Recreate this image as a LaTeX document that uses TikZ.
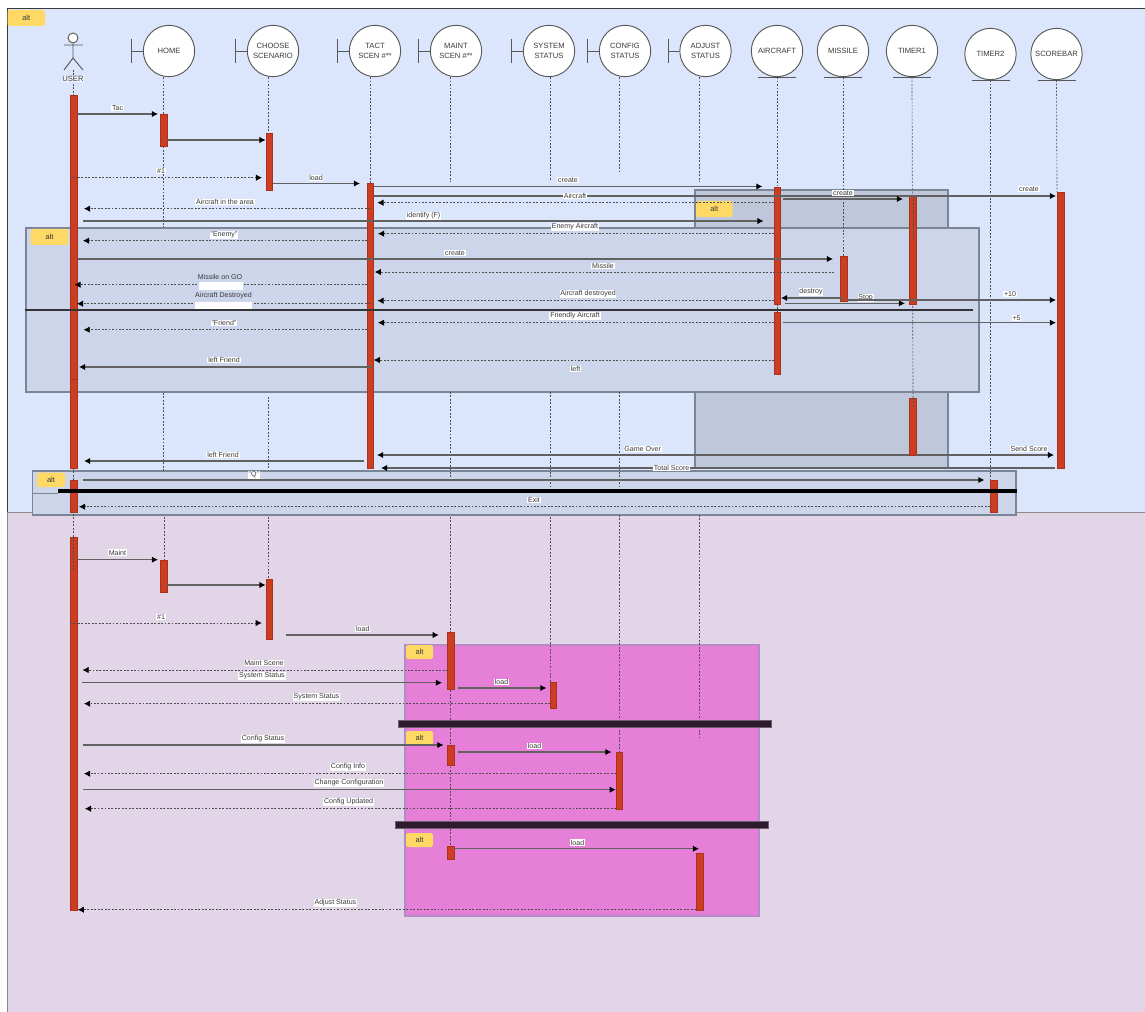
\documentclass[tikz,border=0pt]{standalone}
\usepackage{fontspec}
\setmainfont{Liberation Sans}
\usetikzlibrary{arrows.meta}
\definecolor{bgblue}{HTML}{DBE6FD}
\definecolor{bgpurple}{HTML}{E1D5E7}
\definecolor{tagy}{HTML}{FFD966}
\definecolor{actred}{HTML}{CC3D22}
\definecolor{actline}{HTML}{A8321C}
\definecolor{frameone}{HTML}{CDD5EB}
\definecolor{frametwo}{HTML}{BFC8DA}
\definecolor{framel}{HTML}{7A8696}
\definecolor{pinkf}{HTML}{E67FD7}
\definecolor{pinkl}{HTML}{B58BC6}
\definecolor{barp}{HTML}{2D1A2D}
\definecolor{ink}{HTML}{3A3A3A}
\tikzset{
  boxn/.style={rectangle,inner sep=0pt,outer sep=0pt},
  actbox/.style={boxn,fill=actred,draw=actline,line width=.4pt},
  tagbox/.style={boxn,fill=tagy,rounded corners=1.2pt,font=\fontsize{5.6}{6}\selectfont,text=ink},
  frameA/.style={boxn,fill=frameone,draw=framel,line width=.8pt},
  frameB/.style={boxn,fill=frametwo,draw=framel,line width=.8pt},
  frameC/.style={boxn,fill=pinkf,draw=pinkl,line width=.8pt},
  panelblue/.style={boxn,fill=bgblue,draw=ink,line width=.6pt},
  panelpurple/.style={boxn,fill=bgpurple,draw=ink!60,line width=.5pt},
  whitebox/.style={boxn,fill=white},
  sepbar/.style={boxn,fill=barp,draw=barp!70!white,line width=.3pt},
  blackbar/.style={boxn,fill=black},
  entity/.style={circle,draw=ink!85,fill=white,line width=.7pt,minimum size=38.5pt,inner sep=0pt,align=center,text=ink,font=\fontsize{5.7}{7.4}\selectfont},
  glyph/.style={draw=ink!85,line width=.7pt},
  life/.style={draw=ink!90,line width=.5pt,dash pattern=on 1.4pt off 1.2pt},
  msgs/.style={draw=ink!80,line width=.8pt,-{Latex[length=4.6pt,width=4.8pt,black]}},
  msgd/.style={draw=ink!90,line width=.55pt,dash pattern=on 1.4pt off 1.2pt,-{Latex[length=4.6pt,width=4.8pt,black]}},
  lab/.style={fill=white,inner xsep=.6pt,inner ysep=.5pt,text=ink,font=\fontsize{5.3}{6}\selectfont},
}
% rectangular node from corners given in picture pixels
\newcommand{\pbox}[6]{%
  \pgfmathsetmacro{\pbw}{(#5-#3)*.75}\pgfmathsetmacro{\pbh}{(#6-#4)*.75}%
  \pgfmathsetmacro{\pbx}{(#3+#5)/2}\pgfmathsetmacro{\pby}{(#4+#6)/2}%
  \node[#2,minimum width=\pbw pt,minimum height=\pbh pt] (#1) at (\pbx,\pby) {};}
\newcommand{\tagnode}[5]{%
  \pgfmathsetmacro{\pbw}{(#4-#2)*.75}\pgfmathsetmacro{\pbh}{(#5-#3)*.75}%
  \pgfmathsetmacro{\pbx}{(#2+#4)/2}\pgfmathsetmacro{\pby}{(#3+#5)/2}%
  \node[tagbox,minimum width=\pbw pt,minimum height=\pbh pt] (#1) at (\pbx,\pby) {alt};}
% lifeline piece: id, x, y1, y2
\newcommand{\lseg}[4]{\coordinate (#1a) at (#2,#3);\coordinate (#1b) at (#2,#4);\draw[life] (#1a) -- (#1b);}
% message: id, style, x1, x2, y, label, label x, label y
\newcommand{\msg}[8]{\coordinate (#1a) at (#3,#5);\coordinate (#1b) at (#4,#5);\draw[#2] (#1a) -- (#1b);
  \node[lab] (#1t) at (#7,#8) {#6};}
\newcommand{\msgn}[5]{\coordinate (#1a) at (#3,#5);\coordinate (#1b) at (#4,#5);\draw[#2] (#1a) -- (#1b);}
\begin{document}
\begin{tikzpicture}[x=.75pt,y=-.75pt]
\useasboundingbox (0,0) rectangle (1145,1012);
% panels
\pbox{pblue}{panelblue}{7.5}{8}{1150}{512}
\pbox{ppurple}{panelpurple}{7.5}{512}{1150}{1016}
\tagnode{tagmain}{7.5}{10}{45}{26}
% frames
\pbox{falttwo}{frameB}{695}{190}{948}{468}
\pbox{faltone}{frameA}{26}{228}{979}{392}
\pbox{faltthree}{frameA}{32.5}{471}{1016}{515}
\pbox{fpink}{frameC}{405}{645}{759}{916}
% entities
\node[entity] (home) at (169,51) {HOME};
\node[entity] (choose) at (273,51) {CHOOSE\\SCENARIO};
\node[entity] (tact) at (375,51) {TACT\\SCEN \#**};
\node[entity] (maint) at (456,51) {MAINT\\SCEN \#**};
\node[entity] (system) at (549,51) {SYSTEM\\STATUS};
\node[entity] (config) at (625,51) {CONFIG\\STATUS};
\node[entity] (adjust) at (705.5,51) {ADJUST\\STATUS};
\node[entity] (aircraft) at (777,51) {AIRCRAFT};
\node[entity] (missile) at (843,51) {MISSILE};
\node[entity] (timerone) at (912,51) {TIMER1};
\node[entity] (timertwo) at (990.5,54) {TIMER2};
\node[entity] (scorebar) at (1056.5,54) {SCOREBAR};
\foreach \n in {home,choose,tact,maint,system,config,adjust}{
  \draw[glyph] (\n.west) -- ++(-11,0) ++(0,-12) -- ++(0,24);}
\foreach \n in {aircraft,missile,timerone,timertwo,scorebar}{
  \draw[glyph] (\n.south) ++(-19,0) -- ++(38,0);}
% actor
\node[circle,draw=ink!85,fill=white,line width=.7pt,minimum size=7.5pt,inner sep=0pt] (uhead) at (73,38) {};
\coordinate (uhip) at (73,58);
\coordinate (ularm) at (64,45);\coordinate (urarm) at (83,45);
\coordinate (ulleg) at (64,70);\coordinate (urleg) at (83,70);
\draw[glyph] (uhead.south) -- (uhip) (ularm) -- (urarm) (ulleg) -- (uhip) -- (urleg);
\coordinate (ulifeb) at (73,95);
\coordinate (ulifea) at (73,70);
\draw[life] (ulifea) -- (ulifeb);
\node[lab,fill=bgblue!40!white,font=\fontsize{5.7}{7}\selectfont] (userlabel) at (73,79) {USER};
% lifelines
\coordinate (hl) at (163,227);\draw[life] (home.south -| hl) -- (hl);
\coordinate (cl) at (268,133);\draw[life] (choose.south -| cl) -- (cl);
\coordinate (tl) at (370,183);\draw[life] (tact.south -| tl) -- (tl);
\coordinate (ml) at (450.5,182);\draw[life] (maint.south -| ml) -- (ml);
\coordinate (sl) at (550,180);\draw[life] (system.south -| sl) -- (sl);
\coordinate (gl) at (619.5,171);\draw[life] (config.south -| gl) -- (gl);
\coordinate (al) at (699.5,182);\draw[life] (adjust.south -| al) -- (al);
\coordinate (rl) at (777,187);\draw[life] (aircraft.south) -- (rl);
\coordinate (il) at (843,256);\draw[life] (missile.south) -- (il);
\coordinate (ol) at (913,398);\draw[life] (timerone.south) -- (ol);
\coordinate (wl) at (990.5,480);\draw[life] (timertwo.south) -- (wl);
\coordinate (bl) at (1057,192);\draw[life] (scorebar.south) -- (bl);
\lseg{hm}{163}{393}{472}
\lseg{hn}{164}{517}{560}
\lseg{cm}{268.5}{397}{468}
\lseg{cn}{268.5}{517}{579}
\lseg{mm}{450}{392}{477}
\lseg{mn}{450}{517}{847}
\lseg{sm}{550}{392}{490}
\lseg{sn}{550}{517}{683}
\lseg{gm}{619.5}{392}{490}
\lseg{gn}{619.5}{515}{752}
\lseg{an}{699.5}{515}{738}
\lseg{un}{73}{514}{537}
\lseg{um}{73}{468}{480}
\lseg{rm}{777}{304}{312}
% activations
\pbox{auone}{actbox}{70}{95.5}{77}{379}
\pbox{auoneb}{actbox}{70}{379}{77}{468}
\pbox{autwo}{actbox}{70}{480}{77}{512}
\pbox{authree}{actbox}{70}{537}{77}{910}
\pbox{ahome}{actbox}{160.5}{114}{167}{146}
\pbox{achoose}{actbox}{266}{133}{272.7}{190.5}
\pbox{atact}{actbox}{367}{183}{373.7}{468}
\pbox{aair}{actbox}{774}{187}{780.5}{304}
\pbox{aairb}{actbox}{774}{312}{780.5}{374}
\pbox{amiss}{actbox}{840.6}{256}{847}{301}
\pbox{atone}{actbox}{909}{196}{916}{304}
\pbox{atoneb}{actbox}{909}{398}{916}{455}
\pbox{ascore}{actbox}{1057}{192}{1064}{468}
\pbox{attwo}{actbox}{990}{480}{997}{512}
\pbox{ahomeb}{actbox}{160}{560}{167.4}{592}
\pbox{achooseb}{actbox}{266}{579}{272.7}{639}
\pbox{amaint}{actbox}{447.7}{632}{454}{689}
\pbox{asys}{actbox}{550}{682.5}{556}{708}
\pbox{amaintb}{actbox}{447.7}{745}{454}{765}
\pbox{aconf}{actbox}{616}{752}{622.4}{809}
\pbox{amaintc}{actbox}{447.7}{846}{454}{859}
\pbox{aadj}{actbox}{696.4}{853}{703.5}{910}
\lseg{ux}{73}{537}{570}
\lseg{tx}{913}{196}{238}
\lseg{ty}{913}{398}{405}
% frame tags and separators
\tagnode{tagone}{30.7}{229}{68.4}{245}
\tagnode{tagtwo}{696}{201}{732.5}{217}
\tagnode{tagthree}{37}{472.7}{65}{487}
\tagnode{tagfour}{406}{645}{433}{659}
\tagnode{tagfive}{406}{731}{433}{745}
\tagnode{tagsix}{406}{833}{433}{847}
\coordinate (dva) at (24.5,310);\coordinate (dvb) at (973,310);
\draw[ink!90!black,line width=.9pt] (dva) -- (dvb);
\coordinate (dxa) at (32.5,493);\coordinate (dxb) at (58,493);
\draw[framel,line width=.7pt] (dxa) -- (dxb);
\pbox{barone}{blackbar}{57.7}{489.3}{1017}{493}
\pbox{bartwo}{sepbar}{398.6}{720}{771}{727}
\pbox{barthree}{sepbar}{395}{821}{768}{828}
% messages, top part
\msg{m1}{msgs}{77}{158}{114}{Tac}{117.6}{108}
\msgn{m2}{msgs}{167}{265.6}{140}
\msg{m3}{msgd}{71}{262}{177.7}{\#1}{161}{171}
\msg{m4}{msgs}{273}{360}{183.5}{load}{316}{178}
\msg{m5}{msgs}{374}{762.5}{186.5}{create}{568}{180}
\msg{m6}{msgs}{374}{1056}{196}{create}{1029}{189}
\msg{m7}{msgd}{774}{377.4}{202.7}{Aircraft}{575}{196}
\msg{m8}{msgs}{782.7}{903}{199}{create}{843}{193}
\msg{m9}{msgd}{370}{84}{208.7}{Aircraft in the area}{225}{202}
\msg{m10}{msgs}{83}{763.6}{221}{identify (F)}{423.6}{215.7}
\msg{m11}{msgd}{774}{378}{233.7}{Enemy Aircraft}{575}{227}
\msg{m12}{msgd}{367}{83}{240.7}{"Enemy"}{224}{235}
\msg{m13}{msgs}{77}{833}{259}{create}{455}{253}
\msg{m14}{msgd}{834}{374.8}{272}{Missile}{603}{266}
\msgn{m15}{msgd}{367}{74.4}{284.7}
\node[lab,fill=none] (m15t) at (220,276.7) {Missile on GO};
\msgn{m16}{msgd}{370}{77}{303.7}
\node[lab,fill=none] (m16t) at (223.5,295.7) {Aircraft Destroyed};
\pbox{wpthree}{whitebox}{198.7}{281.7}{243.4}{290}
\pbox{wpfour}{whitebox}{195}{301.7}{251.6}{309}
\msg{m17}{msgd}{774}{377.4}{300.7}{Aircraft destroyed}{588}{294}
\msg{m18}{msgs}{843}{781}{298}{destroy}{811}{292}
\msg{m19}{msgs}{784.5}{905}{303.3}{Stop}{865.6}{298}
\msg{m20}{msgs}{847}{1056}{300}{+10}{1010}{294}
\msg{m21}{msgd}{774}{378}{322.7}{Friendly Aircraft}{575}{316}
\msg{m22}{msgd}{367}{83.6}{329.7}{"Friend"}{224}{323}
\msg{m23}{msgs}{782.7}{1056}{322.7}{+5}{1016.6}{318}
\msg{m24}{msgd}{774}{373.7}{360}{left}{575.5}{369}
\msg{m25}{msgs}{372}{79}{367}{left Friend}{224}{360}
\msg{m26}{msgs}{364}{84}{461}{left Friend}{223}{455}
\msg{m27}{msgs}{909}{377}{455}{Game Over}{642.6}{448.7}
\msg{m28}{msgs}{916}{1054}{455}{Send Score}{1029}{449}
\msg{m29}{msgs}{1055}{381}{468}{Total Score}{671.6}{468}
\msg{m30}{msgs}{83}{984.4}{480}{"Q"}{253.8}{474.7}
\msg{m31}{msgd}{990}{79}{506.7}{Exit}{534}{500}
% messages, lower part
\msg{n1}{msgs}{77}{158}{559.7}{Maint}{117.4}{552.7}
\msgn{n2}{msgs}{167.4}{265.6}{585}
\msg{n3}{msgd}{71}{261.8}{623}{\#1}{161}{616.7}
\msg{n4}{msgs}{286}{438.8}{635}{load}{362.8}{629}
\msg{n5}{msgd}{448}{82.5}{670}{Maint Scene}{264}{663}
\msg{n6}{msgs}{81.5}{442}{682.7}{System Status}{262}{676}
\msg{n7}{msgs}{457.6}{546.4}{688}{load}{501.5}{682}
\msg{n8}{msgd}{550}{84}{703.7}{System Status}{316.5}{697}
\msg{n9}{msgs}{83}{443.5}{745}{Config Status}{263}{739}
\msg{n10}{msgs}{457.6}{611.5}{752}{load}{534.6}{746}
\msg{n11}{msgd}{616}{84}{773.7}{Config Info}{348}{767}
\msg{n12}{msgs}{83}{615.7}{789.7}{Change Configuration}{349}{783}
\msg{n13}{msgd}{616}{85}{808.7}{Config Updated}{348.6}{801.7}
\msg{n14}{msgs}{454}{699}{848.7}{load}{577.5}{842.7}
\msg{n15}{msgd}{696}{77.8}{909.7}{Adjust Status}{335.4}{903}
\end{tikzpicture}
\end{document}
